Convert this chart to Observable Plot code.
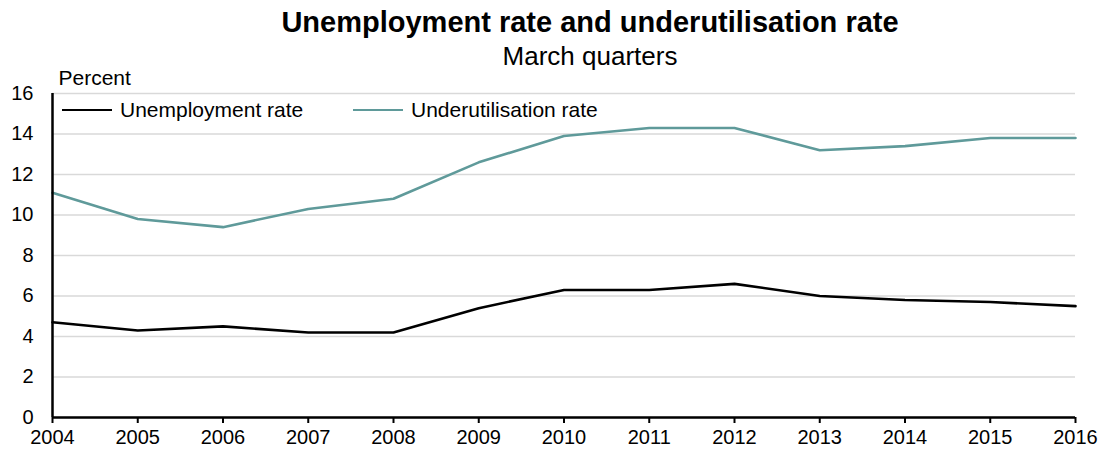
<!DOCTYPE html>
<html>
<head>
<meta charset="utf-8">
<script src="https://cdn.jsdelivr.net/npm/d3@7"></script>
<script src="https://cdn.jsdelivr.net/npm/@observablehq/plot@0.6"></script>
<style>
  html, body { margin: 0; padding: 0; background: #fff; }
  body { width: 1108px; height: 457px; position: relative; font-family: "Liberation Sans", Arial, sans-serif; color: #000; overflow: hidden; }
  #title { position: absolute; left: 0; top: 8px; width: 1180px; text-align: center; font-size: 29px; line-height: 29px; font-weight: bold; z-index: 2; }
  #subtitle { position: absolute; left: 0; top: 43px; width: 1180px; text-align: center; font-size: 26px; line-height: 26px; z-index: 2; }
  #chart { position: absolute; left: 0; top: 65px; z-index: 1; }
  .leg { position: absolute; font-size: 21px; line-height: 24px; height: 24px; display: flex; align-items: center; white-space: nowrap; z-index: 2; }
  .leg span.sw { display: inline-block; width: 50px; height: 0; border-top: 2.6px solid; margin-right: 8px; }
</style>
</head>
<body>
<div id="title">Unemployment rate and underutilisation rate</div>
<div id="subtitle">March quarters</div>
<div id="chart"></div>
<div class="leg" style="left:62px; top:98px;"><span class="sw" style="border-color:#000"></span>Unemployment rate</div>
<div class="leg" style="left:353px; top:98px;"><span class="sw" style="border-color:#5f9a9a"></span>Underutilisation rate</div>
<script>
const years = [2004, 2005, 2006, 2007, 2008, 2009, 2010, 2011, 2012, 2013, 2014, 2015, 2016];
const unemployment = [4.7, 4.3, 4.5, 4.2, 4.2, 5.4, 6.3, 6.3, 6.6, 6.0, 5.8, 5.7, 5.5];
const underutilisation = [11.1, 9.8, 9.4, 10.3, 10.8, 12.6, 13.9, 14.3, 14.3, 13.2, 13.4, 13.8, 13.8];
const yTicks = [0, 2, 4, 6, 8, 10, 12, 14, 16];

const rows = [];
years.forEach((y, i) => {
  rows.push({year: y, value: unemployment[i], series: "Unemployment rate"});
  rows.push({year: y, value: underutilisation[i], series: "Underutilisation rate"});
});

const chart = Plot.plot({
  width: 1108,
  height: 392,
  marginTop: 28,
  marginBottom: 40,
  marginLeft: 52,
  marginRight: 33,
  style: {fontFamily: "'Liberation Sans', Arial, sans-serif", fontSize: "20px", color: "#000", background: "transparent"},
  x: {domain: [2004, 2016], label: null},
  y: {domain: [0, 16], label: null},
  color: {domain: ["Unemployment rate", "Underutilisation rate"], range: ["#000000", "#5f9a9a"]},
  marks: [
    Plot.gridY(yTicks, {stroke: "#d9d9d9", strokeOpacity: 1, strokeWidth: 1.3}),
    Plot.axisY({ticks: yTicks, tickSize: 0, tickPadding: 19, fontSize: 20}),
    Plot.axisX({ticks: years, tickFormat: d => String(d), tickSize: 6, tickPadding: 6, fontSize: 20, strokeWidth: 2}),
    Plot.lineY(rows, {x: "year", y: "value", stroke: "series", strokeWidth: 2.6}),
    Plot.ruleY([0], {stroke: "#000", strokeWidth: 2.5}),
    Plot.ruleX([2004], {stroke: "#000", strokeWidth: 2.5}),
    Plot.text(["Percent"], {frameAnchor: "top-left", lineAnchor: "bottom", dx: 6, dy: -9, textAnchor: "start", fontSize: 21})
  ]
});
document.getElementById("chart").appendChild(chart);
</script>
</body>
</html>
